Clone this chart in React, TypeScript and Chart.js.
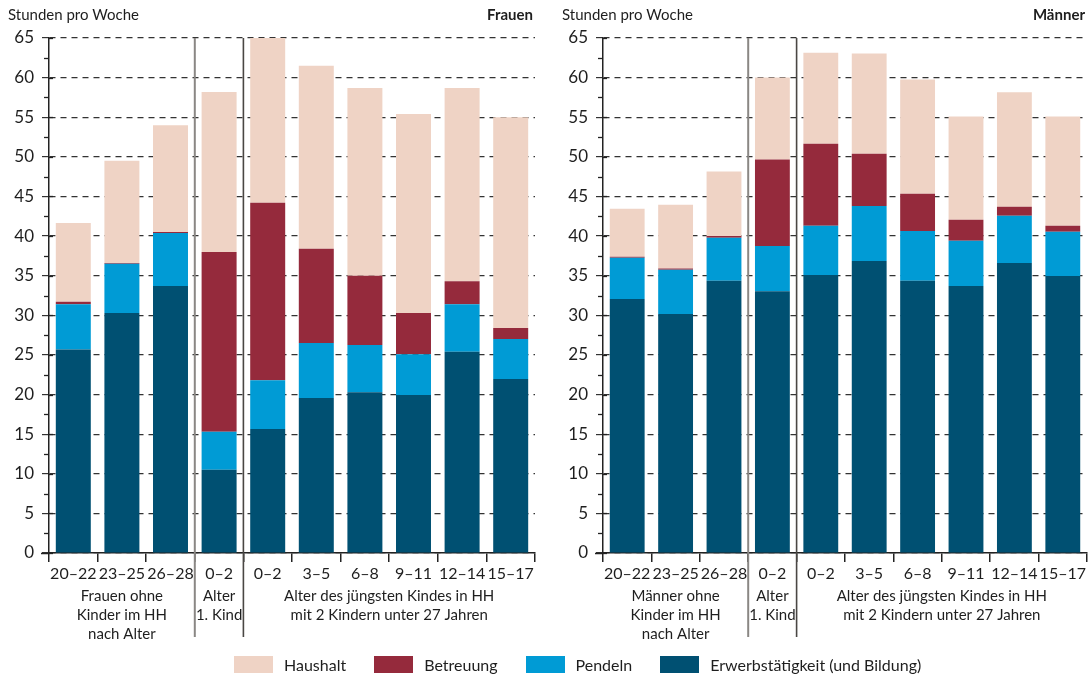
import React, { useEffect, useRef } from 'react';
import { Chart, registerables } from 'chart.js';

Chart.register(...registerables);

const FONT = 'Lato, "Noto Sans", sans-serif';
const TEXT = '#1e1e1e';

const categories = ['20–22', '23–25', '26–28', '0–2', '0–2', '3–5', '6–8', '9–11', '12–14', '15–17'];

const seriesNames = ['Erwerbstätigkeit (und Bildung)', 'Pendeln', 'Betreuung', 'Haushalt'];
const seriesColors = ['#005072', '#009BD5', '#952A3C', '#EFD3C5'];
const legendOrder = [3, 2, 1, 0];

const frauenErwerb = [25.7, 30.3, 33.7, 10.5, 15.65, 19.55, 20.3, 19.95, 25.4, 21.95];
const frauenPendeln = [5.7, 6.2, 6.7, 4.8, 6.15, 6.95, 5.95, 5.15, 6.0, 5.05];
const frauenBetreuung = [0.3, 0.1, 0.1, 22.7, 22.4, 11.9, 8.75, 5.2, 2.9, 1.4];
const frauenHaushalt = [9.95, 12.9, 13.5, 20.2, 21.0, 23.1, 23.7, 25.1, 24.4, 26.6];

const maennerErwerb = [32.05, 30.15, 34.35, 33.05, 35.1, 36.85, 34.35, 33.7, 36.6, 34.95];
const maennerPendeln = [5.2, 5.6, 5.45, 5.7, 6.2, 6.95, 6.3, 5.7, 5.95, 5.6];
const maennerBetreuung = [0.15, 0.15, 0.2, 10.9, 10.35, 6.6, 4.7, 2.65, 1.15, 0.75];
const maennerHaushalt = [6.05, 8.05, 8.15, 10.35, 11.5, 12.65, 14.4, 13.05, 14.45, 13.8];

const yMax = 65;
const yStep = 5;
const yMinorStep = 2.5;

const groupSpans = [[0, 2], [3, 3], [4, 9]];
const frauenGroups = [['Frauen ohne', 'Kinder im HH', 'nach Alter'], ['Alter', '1. Kind'], ['Alter des jüngsten Kindes in HH', 'mit 2 Kindern unter 27 Jahren']];
const maennerGroups = [['Männer ohne', 'Kinder im HH', 'nach Alter'], ['Alter', '1. Kind'], ['Alter des jüngsten Kindes in HH', 'mit 2 Kindern unter 27 Jahren']];
const yAxisTitle = 'Stunden pro Woche';

const W = 545;
const H = 676;

function makeDecor(title: string, groups: string[][]) {
  return {
    id: 'panelDecor',
    afterDraw(chart: any) {
      const { ctx, chartArea, scales } = chart;
      const x = scales.x;
      const y = scales.y;
      const line = (x1: number, y1: number, x2: number, y2: number) => {
        ctx.beginPath();
        ctx.moveTo(x1, y1);
        ctx.lineTo(x2, y2);
        ctx.stroke();
      };
      ctx.save();
      ctx.fillStyle = TEXT;
      ctx.textBaseline = 'middle';
      ctx.font = `15px ${FONT}`;
      ctx.textAlign = 'left';
      ctx.fillText(yAxisTitle, chartArea.left - 41, 15);
      ctx.font = `bold 15px ${FONT}`;
      ctx.textAlign = 'right';
      ctx.fillText(title, chartArea.right - 2, 15);

      ctx.strokeStyle = '#222';
      ctx.lineWidth = 1.3;
      for (let v = yMinorStep; v < yMax; v += yStep) {
        const py = Math.round(y.getPixelForValue(v)) + 0.5;
        line(chartArea.left - 5, py, chartArea.left, py);
      }
      for (let v = 0; v <= yMax; v += yStep) {
        const py = Math.round(y.getPixelForValue(v)) + 0.5;
        line(chartArea.left, py, chartArea.left + 4, py);
      }
      const by = Math.round(chartArea.bottom) + 0.5;
      ctx.lineWidth = 1.5;
      line(chartArea.left - 8, by, chartArea.left, by);

      const half = (x.getPixelForValue(1) - x.getPixelForValue(0)) / 2;
      const s1 = x.getPixelForValue(2) + half;
      const s2 = x.getPixelForValue(3) + half;
      ctx.lineWidth = 2;
      ctx.strokeStyle = '#8a8784';
      line(s1, chartArea.top, s1, 637);
      ctx.lineWidth = 1.6;
      ctx.strokeStyle = '#4a4744';
      line(s2, chartArea.top, s2, 637);

      ctx.fillStyle = TEXT;
      ctx.font = `15px ${FONT}`;
      ctx.textAlign = 'center';
      groupSpans.forEach(([a, b], gi) => {
        const cx = (x.getPixelForValue(a) + x.getPixelForValue(b)) / 2;
        groups[gi].forEach((t, li) => ctx.fillText(t, cx, 596 + li * 19));
      });
      ctx.restore();
    },
  };
}

type PanelProps = {
  left: number;
  title: string;
  groups: string[][];
  erwerb: number[];
  pendeln: number[];
  betreuung: number[];
  haushalt: number[];
  axisWidth: number;
  padRight: number;
};

function Panel(props: PanelProps) {
  const ref = useRef<HTMLCanvasElement | null>(null);
  useEffect(() => {
    if (!ref.current) return;
    const values = [props.erwerb, props.pendeln, props.betreuung, props.haushalt];
    const chart = new Chart(ref.current, {
      type: 'bar',
      data: {
        labels: categories,
        datasets: values.map((d, i) => ({
          label: seriesNames[i],
          data: d,
          backgroundColor: seriesColors[i],
          borderWidth: 0,
          barPercentage: 0.72,
          categoryPercentage: 1,
        })),
      },
      options: {
        responsive: false,
        animation: false,
        devicePixelRatio: 1,
        layout: { padding: { top: 38, right: props.padRight, left: 0, bottom: 0 } },
        plugins: { legend: { display: false }, tooltip: { enabled: false } },
        scales: {
          x: {
            stacked: true,
            offset: true,
            grid: { offset: true, drawOnChartArea: false, drawTicks: true, tickLength: 9, color: '#222', lineWidth: 1.5 },
            border: { color: '#222', width: 1.5 },
            ticks: { color: TEXT, font: { family: FONT, size: 16 }, padding: 2, maxRotation: 0, autoSkip: false },
            afterFit: (s: any) => {
              s.height = H - 553;
              s.paddingLeft = 0;
              s.paddingRight = 0;
            },
          },
          y: {
            stacked: true,
            min: 0,
            max: yMax,
            grid: { color: '#333', lineWidth: 1.2, tickLength: 7, drawTicks: true },
            border: { color: '#222', width: 1.5, dash: [6, 5] },
            ticks: { stepSize: yStep, color: TEXT, font: { family: FONT, size: 17 }, padding: 8 },
            afterFit: (s: any) => {
              s.width = props.axisWidth;
              s.paddingTop = 0;
              s.paddingBottom = 0;
            },
          },
        },
      },
      plugins: [makeDecor(props.title, props.groups)],
    } as any);
    return () => chart.destroy();
  }, []);
  return (
    <canvas
      ref={ref}
      width={W}
      height={H}
      style={{ position: 'absolute', left: props.left, top: 0, width: W, height: H, display: 'block' }}
    />
  );
}

function Legend() {
  return (
    <div
      style={{
        position: 'absolute',
        left: 234,
        top: 655,
        display: 'flex',
        alignItems: 'center',
        gap: 28,
        fontFamily: FONT,
        fontSize: 16,
        color: TEXT,
        whiteSpace: 'nowrap',
      }}
    >
      {legendOrder.map((i) => (
        <div key={i} style={{ display: 'flex', alignItems: 'center', gap: 11 }}>
          <div style={{ width: 39, height: 17, background: seriesColors[i] }} />
          <span>{seriesNames[i]}</span>
        </div>
      ))}
    </div>
  );
}

export default function App() {
  return (
    <div style={{ position: 'fixed', left: 0, top: 0, width: 1090, height: 676, background: '#fff', overflow: 'hidden' }}>
      <Panel
        left={0}
        title="Frauen"
        groups={frauenGroups}
        erwerb={frauenErwerb}
        pendeln={frauenPendeln}
        betreuung={frauenBetreuung}
        haushalt={frauenHaushalt}
        axisWidth={49}
        padRight={10}
      />
      <Panel
        left={545}
        title="Männer"
        groups={maennerGroups}
        erwerb={maennerErwerb}
        pendeln={maennerPendeln}
        betreuung={maennerBetreuung}
        haushalt={maennerHaushalt}
        axisWidth={58}
        padRight={3}
      />
      <Legend />
    </div>
  );
}
